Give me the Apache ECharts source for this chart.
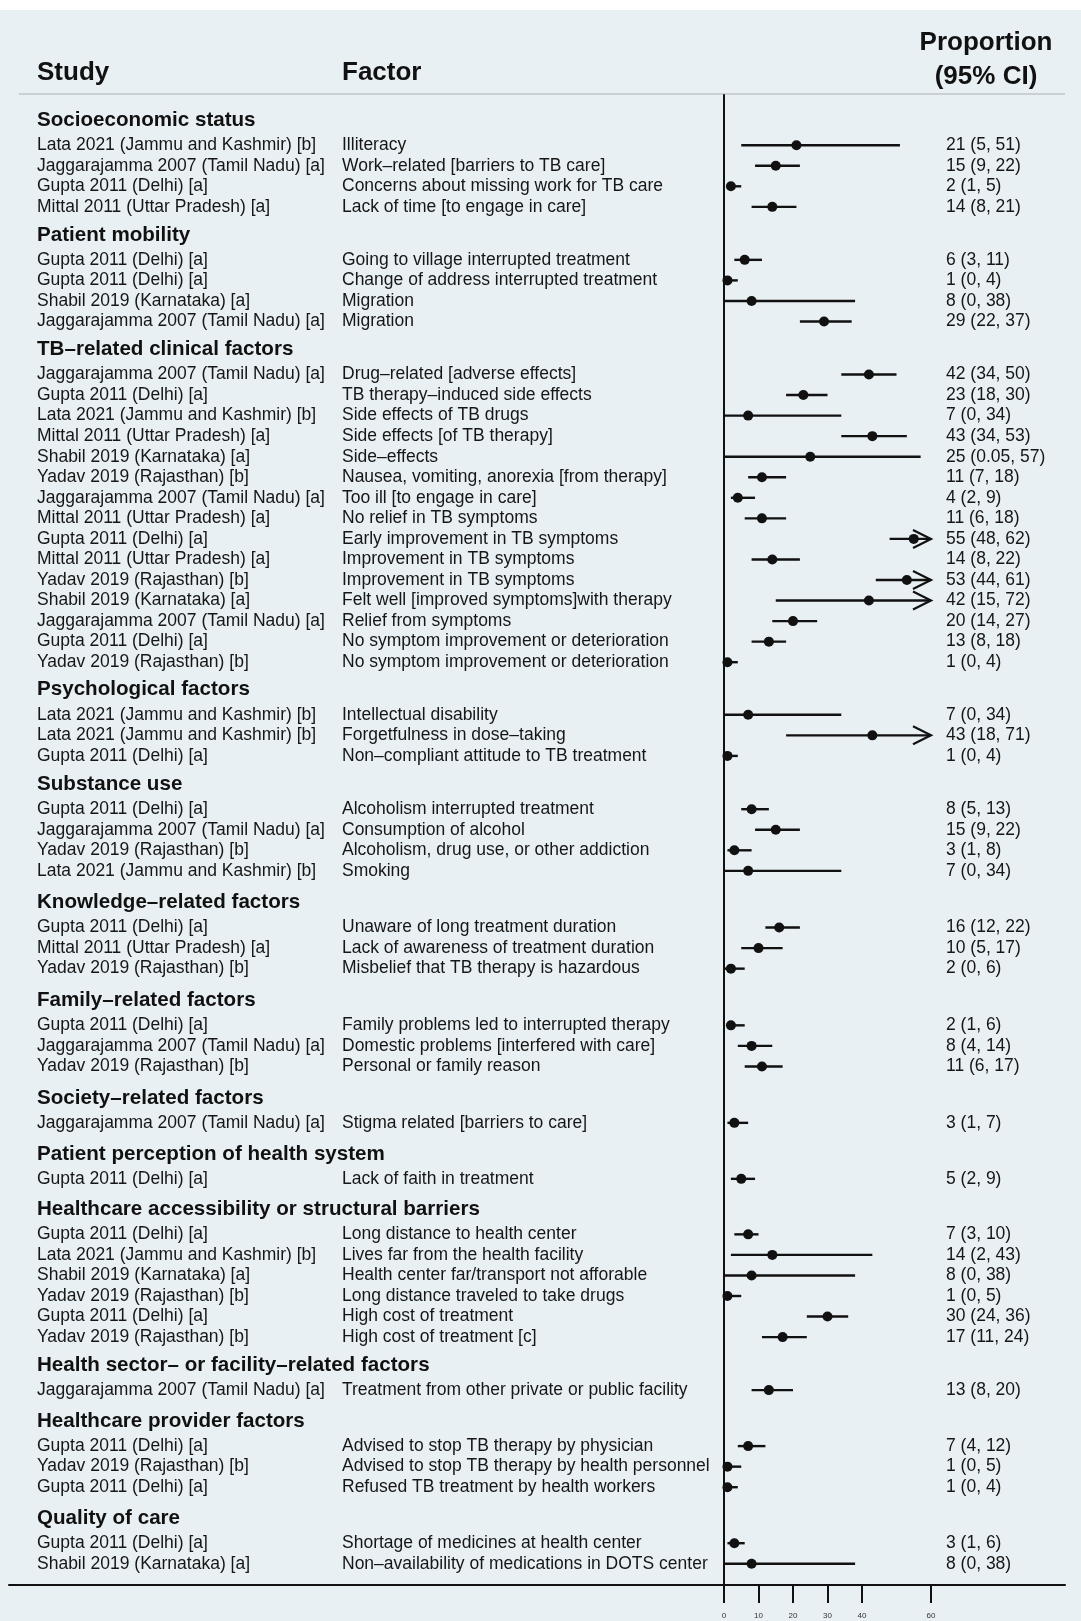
<!DOCTYPE html>
<html>
<head>
<meta charset="utf-8">
<script src="https://cdn.jsdelivr.net/npm/echarts@6/dist/echarts.min.js"></script>
<style>
html,body{margin:0;padding:0;background:#ffffff;}
#chart{width:1081px;height:1621px;}
</style>
</head>
<body>
<div id="chart"></div>
<script>
// ---------------- DATA ----------------
const groups = [
  'Socioeconomic status',
  'Patient mobility',
  'TB\u2013related clinical factors',
  'Psychological factors',
  'Substance use',
  'Knowledge\u2013related factors',
  'Family\u2013related factors',
  'Society\u2013related factors',
  'Patient perception of health system',
  'Healthcare accessibility or structural barriers',
  'Health sector\u2013 or facility\u2013related factors',
  'Healthcare provider factors',
  'Quality of care'
];
const groupSizes = [4, 4, 15, 3, 4, 3, 3, 1, 1, 6, 1, 3, 2];

const studies = [
  'Lata 2021 (Jammu and Kashmir) [b]',
  'Jaggarajamma 2007 (Tamil Nadu) [a]',
  'Gupta 2011 (Delhi) [a]',
  'Mittal 2011 (Uttar Pradesh) [a]',

  'Gupta 2011 (Delhi) [a]',
  'Gupta 2011 (Delhi) [a]',
  'Shabil 2019 (Karnataka) [a]',
  'Jaggarajamma 2007 (Tamil Nadu) [a]',

  'Jaggarajamma 2007 (Tamil Nadu) [a]',
  'Gupta 2011 (Delhi) [a]',
  'Lata 2021 (Jammu and Kashmir) [b]',
  'Mittal 2011 (Uttar Pradesh) [a]',
  'Shabil 2019 (Karnataka) [a]',
  'Yadav 2019 (Rajasthan) [b]',
  'Jaggarajamma 2007 (Tamil Nadu) [a]',
  'Mittal 2011 (Uttar Pradesh) [a]',
  'Gupta 2011 (Delhi) [a]',
  'Mittal 2011 (Uttar Pradesh) [a]',
  'Yadav 2019 (Rajasthan) [b]',
  'Shabil 2019 (Karnataka) [a]',
  'Jaggarajamma 2007 (Tamil Nadu) [a]',
  'Gupta 2011 (Delhi) [a]',
  'Yadav 2019 (Rajasthan) [b]',

  'Lata 2021 (Jammu and Kashmir) [b]',
  'Lata 2021 (Jammu and Kashmir) [b]',
  'Gupta 2011 (Delhi) [a]',

  'Gupta 2011 (Delhi) [a]',
  'Jaggarajamma 2007 (Tamil Nadu) [a]',
  'Yadav 2019 (Rajasthan) [b]',
  'Lata 2021 (Jammu and Kashmir) [b]',

  'Gupta 2011 (Delhi) [a]',
  'Mittal 2011 (Uttar Pradesh) [a]',
  'Yadav 2019 (Rajasthan) [b]',

  'Gupta 2011 (Delhi) [a]',
  'Jaggarajamma 2007 (Tamil Nadu) [a]',
  'Yadav 2019 (Rajasthan) [b]',

  'Jaggarajamma 2007 (Tamil Nadu) [a]',

  'Gupta 2011 (Delhi) [a]',

  'Gupta 2011 (Delhi) [a]',
  'Lata 2021 (Jammu and Kashmir) [b]',
  'Shabil 2019 (Karnataka) [a]',
  'Yadav 2019 (Rajasthan) [b]',
  'Gupta 2011 (Delhi) [a]',
  'Yadav 2019 (Rajasthan) [b]',

  'Jaggarajamma 2007 (Tamil Nadu) [a]',

  'Gupta 2011 (Delhi) [a]',
  'Yadav 2019 (Rajasthan) [b]',
  'Gupta 2011 (Delhi) [a]',

  'Gupta 2011 (Delhi) [a]',
  'Shabil 2019 (Karnataka) [a]'
];

const factors = [
  'Illiteracy',
  'Work\u2013related [barriers to TB care]',
  'Concerns about missing work for TB care',
  'Lack of time [to engage in care]',

  'Going to village interrupted treatment',
  'Change of address interrupted treatment',
  'Migration',
  'Migration',

  'Drug\u2013related [adverse effects]',
  'TB therapy\u2013induced side effects',
  'Side effects of TB drugs',
  'Side effects [of TB therapy]',
  'Side\u2013effects',
  'Nausea, vomiting, anorexia [from therapy]',
  'Too ill [to engage in care]',
  'No relief in TB symptoms',
  'Early improvement in TB symptoms',
  'Improvement in TB symptoms',
  'Improvement in TB symptoms',
  'Felt well [improved symptoms]with therapy',
  'Relief from symptoms',
  'No symptom improvement or deterioration',
  'No symptom improvement or deterioration',

  'Intellectual disability',
  'Forgetfulness in dose\u2013taking',
  'Non\u2013compliant attitude to TB treatment',

  'Alcoholism interrupted treatment',
  'Consumption of alcohol',
  'Alcoholism, drug use, or other addiction',
  'Smoking',

  'Unaware of long treatment duration',
  'Lack of awareness of treatment duration',
  'Misbelief that TB therapy is hazardous',

  'Family problems led to interrupted therapy',
  'Domestic problems [interfered with care]',
  'Personal or family reason',

  'Stigma related [barriers to care]',

  'Lack of faith in treatment',

  'Long distance to health center',
  'Lives far from the health facility',
  'Health center far/transport not afforable',
  'Long distance traveled to take drugs',
  'High cost of treatment',
  'High cost of treatment [c]',

  'Treatment from other private or public facility',

  'Advised to stop TB therapy by physician',
  'Advised to stop TB therapy by health personnel',
  'Refused TB treatment by health workers',

  'Shortage of medicines at health center',
  'Non\u2013availability of medications in DOTS center'
];

const estimates = [21, 15, 2, 14,  6, 1, 8, 29,  42, 23, 7, 43, 25, 11, 4, 11, 55, 14, 53, 42, 20, 13, 1,  7, 43, 1,  8, 15, 3, 7,  16, 10, 2,  2, 8, 11,  3,  5,  7, 14, 8, 1, 30, 17,  13,  7, 1, 1,  3, 8];
const lower     = [5, 9, 1, 8,     3, 0, 0, 22,  34, 18, 0, 34, 0.05, 7, 2, 6, 48, 8, 44, 15, 14, 8, 0,  0, 18, 0,  5, 9, 1, 0,   12, 5, 0,   1, 4, 6,    1,  2,  3, 2, 0, 0, 24, 11,   8,   4, 0, 0,  1, 0];
const upper     = [51, 22, 5, 21,  11, 4, 38, 37, 50, 30, 34, 53, 57, 18, 9, 18, 62, 22, 61, 72, 27, 18, 4, 34, 71, 4, 13, 22, 8, 34, 22, 17, 6,  6, 14, 17, 7,  9,  10, 43, 38, 5, 36, 24, 20, 12, 5, 4,  6, 38];

const tickValues = [0, 10, 20, 30, 40, 60];
const axisCap = 60;

// ---------------- LAYOUT ----------------
const W = 1081, H = 1621;
const BG = '#e9f0f3';
const GRID_LEFT = 9, GRID_RIGHT_PX = 1065, GRID_TOP = 95, GRID_BOTTOM_PX = 1585;
const X0_PX = 724, PX_PER_UNIT = 3.45;
const xMin = -(X0_PX - GRID_LEFT) / PX_PER_UNIT;
const xMax = (GRID_RIGHT_PX - X0_PX) / PX_PER_UNIT;

const ROW_PX = 20.55;
const FIRST_HEADER_PX = 120.2;
const HEAD_TO_ROW_PX = 25;
const GAP_BEFORE_HEADER_PX = [28, 28, 27.6, 28.3, 31.7, 31.7, 31.4, 31, 30.5, 28, 31, 31];

const STUDY_X = 37, FACTOR_X = 342, CI_X = 946;
const FONT = '"Liberation Sans", Arial, Helvetica, sans-serif';

// row positions in "row units" from grid top
const headerPos = [], rowPos = [];
(function () {
  let y = FIRST_HEADER_PX - GRID_TOP;
  groups.forEach((g, gi) => {
    if (gi > 0) y += GAP_BEFORE_HEADER_PX[gi - 1];
    headerPos.push(y / ROW_PX);
    y += HEAD_TO_ROW_PX;
    for (let k = 0; k < groupSizes[gi]; k++) {
      if (k > 0) y += ROW_PX;
      rowPos.push(y / ROW_PX);
    }
  });
})();
const yMax = (GRID_BOTTOM_PX - GRID_TOP) / ROW_PX;

const ciLabels = estimates.map((e, i) => e + ' (' + lower[i] + ', ' + upper[i] + ')');

const chart = echarts.init(document.getElementById('chart'), null, { renderer: 'canvas' });

const option = {
  backgroundColor: BG,
  animation: false,
  grid: { left: GRID_LEFT, right: W - GRID_RIGHT_PX, top: GRID_TOP, bottom: H - GRID_BOTTOM_PX, containLabel: false },
  xAxis: {
    type: 'value', min: xMin, max: xMax,
    axisLine: { show: true, onZero: false, lineStyle: { color: '#111', width: 2 } },
    axisTick: { show: true, customValues: tickValues, length: 18, lineStyle: { color: '#111', width: 2 } },
    axisLabel: { show: true, customValues: tickValues, fontSize: 8, color: '#333', margin: 27, fontFamily: FONT },
    splitLine: { show: false }
  },
  yAxis: {
    type: 'value', min: 0, max: yMax, inverse: true,
    axisLine: { show: true, onZero: true, lineStyle: { color: '#111', width: 2 } },
    axisTick: { show: false }, axisLabel: { show: false }, splitLine: { show: false }
  },
  graphic: [
    { type: 'rect', shape: { x: 0, y: 0, width: W, height: 10 }, style: { fill: '#ffffff' }, z: 1 },
    { type: 'line', shape: { x1: 19, y1: 94, x2: 1065, y2: 94 }, style: { stroke: '#c9d0d3', lineWidth: 2 } },
    { type: 'text', x: STUDY_X, y: 73, style: { text: 'Study', fill: '#111', fontSize: 26, fontWeight: 'bold', fontFamily: FONT, verticalAlign: 'middle' } },
    { type: 'text', x: FACTOR_X, y: 73, style: { text: 'Factor', fill: '#111', fontSize: 26, fontWeight: 'bold', fontFamily: FONT, verticalAlign: 'middle' } },
    { type: 'text', x: 986, y: 43, style: { text: 'Proportion', fill: '#111', fontSize: 26, fontWeight: 'bold', fontFamily: FONT, align: 'center', verticalAlign: 'middle' } },
    { type: 'text', x: 986, y: 77, style: { text: '(95% CI)', fill: '#111', fontSize: 26, fontWeight: 'bold', fontFamily: FONT, align: 'center', verticalAlign: 'middle' } }
  ],
  series: [
    {
      name: 'groupHeaders', type: 'custom', coordinateSystem: 'cartesian2d',
      data: groups.map((g, i) => [0, headerPos[i]]),
      encode: { x: 0, y: 1 },
      renderItem: function (params, api) {
        const p = api.coord([0, api.value(1)]);
        return { type: 'text', style: { text: groups[params.dataIndex], x: STUDY_X, y: p[1], fill: '#111', fontSize: 20.6, fontWeight: 'bold', fontFamily: FONT, verticalAlign: 'middle' } };
      },
      silent: true
    },
    {
      name: 'rowText', type: 'custom', coordinateSystem: 'cartesian2d',
      data: rowPos.map((p, i) => [0, p]),
      encode: { x: 0, y: 1 },
      renderItem: function (params, api) {
        const i = params.dataIndex;
        const p = api.coord([0, api.value(1)]);
        const base = { fill: '#161616', fontSize: 17.5, fontFamily: FONT, verticalAlign: 'middle' };
        return {
          type: 'group', children: [
            { type: 'text', style: Object.assign({ text: studies[i], x: STUDY_X, y: p[1] }, base) },
            { type: 'text', style: Object.assign({ text: factors[i], x: FACTOR_X, y: p[1] }, base) },
            { type: 'text', style: Object.assign({ text: ciLabels[i], x: CI_X, y: p[1] }, base) }
          ]
        };
      },
      silent: true
    },
    {
      name: 'ci', type: 'custom', coordinateSystem: 'cartesian2d',
      data: estimates.map((e, i) => [e, lower[i], upper[i], rowPos[i]]),
      encode: { x: [0, 1, 2], y: 3 },
      renderItem: function (params, api) {
        const est = api.value(0), lo = api.value(1), hi = api.value(2), y = api.value(3);
        const capHi = Math.min(hi, axisCap);
        const a = api.coord([lo, y]), b = api.coord([capHi, y]), c = api.coord([est, y]);
        const children = [
          { type: 'line', shape: { x1: a[0], y1: a[1], x2: b[0], y2: b[1] }, style: { stroke: '#111', lineWidth: 2.4 } }
        ];
        if (hi > axisCap) {
          children.push({ type: 'polyline', shape: { points: [[b[0] - 18, b[1] - 9], [b[0], b[1]], [b[0] - 18, b[1] + 9]] }, style: { stroke: '#111', fill: null, lineWidth: 2.2 } });
        }
        children.push({ type: 'circle', shape: { cx: c[0], cy: c[1], r: 5 }, style: { fill: '#111' } });
        return { type: 'group', children: children };
      },
      silent: true
    }
  ]
};
chart.setOption(option);
</script>
</body>
</html>
